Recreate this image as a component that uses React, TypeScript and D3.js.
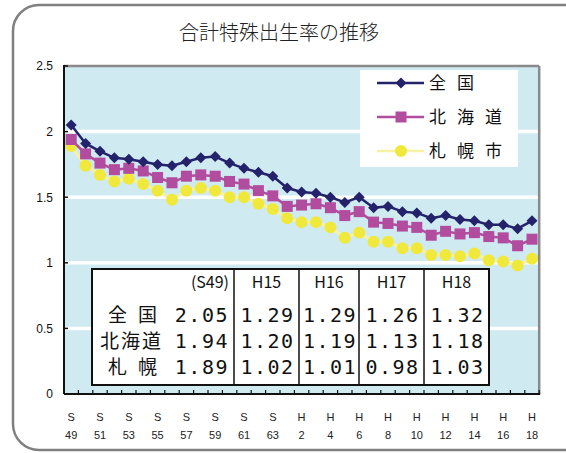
import React from 'react';
import * as d3 from 'd3';

const years = [
  'S49', 'S50', 'S51', 'S52', 'S53', 'S54', 'S55', 'S56', 'S57', 'S58', 'S59',
  'S60', 'S61', 'S62', 'S63', 'H1', 'H2', 'H3', 'H4', 'H5', 'H6', 'H7', 'H8',
  'H9', 'H10', 'H11', 'H12', 'H13', 'H14', 'H15', 'H16', 'H17', 'H18',
];

const zenkoku = [
  2.05, 1.91, 1.85, 1.80, 1.79, 1.77, 1.75, 1.74, 1.77, 1.80, 1.81,
  1.76, 1.72, 1.69, 1.66, 1.57, 1.54, 1.53, 1.50, 1.46, 1.50, 1.42, 1.43,
  1.39, 1.38, 1.34, 1.36, 1.33, 1.32, 1.29, 1.29, 1.26, 1.32,
];

const hokkaido = [
  1.94, 1.83, 1.76, 1.71, 1.72, 1.70, 1.65, 1.61, 1.66, 1.67, 1.66,
  1.62, 1.60, 1.55, 1.51, 1.43, 1.44, 1.45, 1.42, 1.36, 1.39, 1.31, 1.30,
  1.28, 1.27, 1.21, 1.24, 1.22, 1.23, 1.20, 1.19, 1.13, 1.18,
];

const sapporo = [
  1.89, 1.74, 1.67, 1.62, 1.64, 1.60, 1.55, 1.48, 1.55, 1.57, 1.55,
  1.50, 1.50, 1.45, 1.41, 1.34, 1.31, 1.31, 1.27, 1.19, 1.23, 1.16, 1.16,
  1.11, 1.11, 1.06, 1.06, 1.05, 1.07, 1.02, 1.01, 0.98, 1.03,
];

const yTicks = [0, 0.5, 1, 1.5, 2, 2.5];

const tableCols = ['(S49)', 'H15', 'H16', 'H17', 'H18'];
const tableRows = ['全国', '北海道', '札幌'];
const tableVals = [
  ['2.05', '1.29', '1.29', '1.26', '1.32'],
  ['1.94', '1.20', '1.19', '1.13', '1.18'],
  ['1.89', '1.02', '1.01', '0.98', '1.03'],
];

const NAVY = '#23226b';
const MAGENTA = '#b24c9f';
const YELLOW = '#f1e83c';
const YELLOW_LINE = '#f6f2a4';
const GOTHIC = '"Noto Sans CJK JP", "Noto Sans", sans-serif';
const ARIAL = '"Liberation Sans", Arial, sans-serif';
const MONO = '"DejaVu Sans Mono", monospace';

export default function App() {
  const width = 566;
  const height = 453;
  const margin = { left: 64, right: 26.8, top: 66, bottom: 59 };

  const x = d3.scaleBand<string>()
    .domain(years)
    .range([margin.left, width - margin.right])
    .padding(0);
  const y = d3.scaleLinear().domain([0, 2.5]).range([height - margin.bottom, margin.top]);
  const cx = (i: number) => (x(years[i]) as number) + x.bandwidth() / 2;

  const line = d3.line<number>().x((_, i) => cx(i)).y(d => y(d));

  const series = [
    { name: '全国', data: zenkoku, color: NAVY, lineColor: NAVY, marker: 'diamond' },
    { name: '北海道', data: hokkaido, color: MAGENTA, lineColor: MAGENTA, marker: 'square' },
    { name: '札幌市', data: sapporo, color: YELLOW, lineColor: YELLOW_LINE, marker: 'circle' },
  ];

  const marker = (kind: string, px: number, py: number, color: string, key: any) => {
    if (kind === 'diamond') {
      const s = 5.5;
      return <path key={key} d={`M${px},${py - s}L${px + s},${py}L${px},${py + s}L${px - s},${py}Z`} fill={color} />;
    }
    if (kind === 'square') {
      const s = 5.5;
      return <rect key={key} x={px - s} y={py - s} width={s * 2} height={s * 2} fill={color} />;
    }
    return <circle key={key} cx={px} cy={py} r={6} fill={color} />;
  };

  const plotL = margin.left;
  const plotR = width - margin.right;
  const plotT = margin.top;
  const plotB = height - margin.bottom;

  // table geometry
  const tL = 92, tR = 489, tT = 269, tB = 385;
  const colEdges = [234, 299, 359, 424, tR];
  const colStarts = [tL, 234, 299, 359, 424];
  const rowY = [315, 341, 367];

  return (
    <div style={{ position: 'absolute', left: 0, top: 0, background: '#fff' }}>
      <svg width={width} height={height} style={{ display: 'block' }}>
        <rect x={13} y={5} width={580} height={445} rx={26} fill="#fff" stroke="#808080" strokeWidth={2.5} />
        <text x={279} y={40} textAnchor="middle" fontFamily={GOTHIC} fontSize={20} fontWeight={300} fill="#222">
          合計特殊出生率の推移
        </text>

        {/* plot background */}
        <rect x={plotL} y={plotT} width={plotR - plotL} height={plotB - plotT} fill="#cfeaf0" />
        {yTicks.filter(t => t > 0 && t < 2.5).map(t => (
          <line key={t} x1={plotL} x2={plotR} y1={y(t)} y2={y(t)} stroke="#fff" strokeWidth={3.5} />
        ))}
        <line x1={plotL} x2={plotR} y1={plotT} y2={plotT} stroke="#8a8a8a" strokeWidth={2.5} />
        <line x1={plotR} x2={plotR} y1={plotT} y2={plotB} stroke="#8a8a8a" strokeWidth={2.5} />

        {/* legend box */}
        <rect x={360} y={70} width={158} height={97} fill="#fff" />
        {series.map((s, k) => {
          const ly = 83 + k * 34;
          return (
            <g key={s.name}>
              <line x1={377} x2={424} y1={ly} y2={ly} stroke={s.lineColor} strokeWidth={2.5} />
              {marker(s.marker, 401, ly, s.color, 'm')}
              <text x={429} y={ly} dy="0.36em" fontFamily={GOTHIC} fontSize={17} letterSpacing={11} fill="#111">{s.name}</text>
            </g>
          );
        })}

        {/* series */}
        {series.slice().reverse().map(s => (
          <g key={s.name}>
            <path d={line(s.data) || ''} fill="none" stroke={s.lineColor} strokeWidth={s.marker === 'circle' ? 3 : 2.5} />
            {s.data.map((v, i) => marker(s.marker, cx(i), y(v), s.color, i))}
          </g>
        ))}

        {/* table */}
        <rect x={tL} y={tT} width={tR - tL} height={tB - tT} fill="#fff" stroke="#111" strokeWidth={2} />
        {colEdges.slice(0, 4).map(cxv => (
          <line key={cxv} x1={cxv} x2={cxv} y1={tT} y2={tB} stroke="#111" strokeWidth={1.5} />
        ))}
        {tableCols.map((c, j) => (
          <text key={c} x={j === 0 ? 229 : (colStarts[j] + colEdges[j]) / 2} y={282} dy="0.36em"
            textAnchor={j === 0 ? 'end' : 'middle'} fontFamily={GOTHIC} fontSize={16} fill="#111">{c}</text>
        ))}
        {tableRows.map((r, i) => (
          <g key={r}>
            <text x={r.length === 3 ? 100 : 108} y={rowY[i]} dy="0.36em" fontFamily={GOTHIC} fontSize={19} fill="#111"
              letterSpacing={r.length === 3 ? 2 : 11}>{r}</text>
            {tableVals[i].map((v, j) => (
              <text key={j} x={j === 0 ? 229 : (colStarts[j] + colEdges[j]) / 2 + 1} y={rowY[i]} dy="0.36em"
                textAnchor={j === 0 ? 'end' : 'middle'} fontFamily={MONO} fontSize={20}
                letterSpacing={1.5} fill="#111">{v}</text>
            ))}
          </g>
        ))}

        {/* axes */}
        <line x1={plotL} x2={plotL} y1={plotT - 1} y2={plotB} stroke="#111" strokeWidth={2} />
        <line x1={plotL} x2={plotR + 1} y1={plotB} y2={plotB} stroke="#111" strokeWidth={2} />
        {yTicks.map(t => (
          <g key={t}>
            <line x1={plotL} x2={plotL + 4} y1={y(t)} y2={y(t)} stroke="#111" strokeWidth={1.5} />
            <text x={53} y={y(t)} dy="0.36em" textAnchor="end" fontFamily={ARIAL} fontSize={12} fill="#111">{t}</text>
          </g>
        ))}
        {years.map(yr => (
          <line key={yr} x1={(x(yr) as number) + x.bandwidth()} x2={(x(yr) as number) + x.bandwidth()}
            y1={plotB} y2={plotB - 4} stroke="#111" strokeWidth={1.2} />
        ))}
        {years.map((yr, i) => i % 2 === 0 ? (
          <g key={yr}>
            <text x={cx(i)} y={417} dy="0.36em" textAnchor="middle" fontFamily={ARIAL} fontSize={11} fill="#222">{yr[0]}</text>
            <text x={cx(i)} y={435} dy="0.36em" textAnchor="middle" fontFamily={ARIAL} fontSize={11} fill="#222">{yr.slice(1)}</text>
          </g>
        ) : null)}
      </svg>
    </div>
  );
}
